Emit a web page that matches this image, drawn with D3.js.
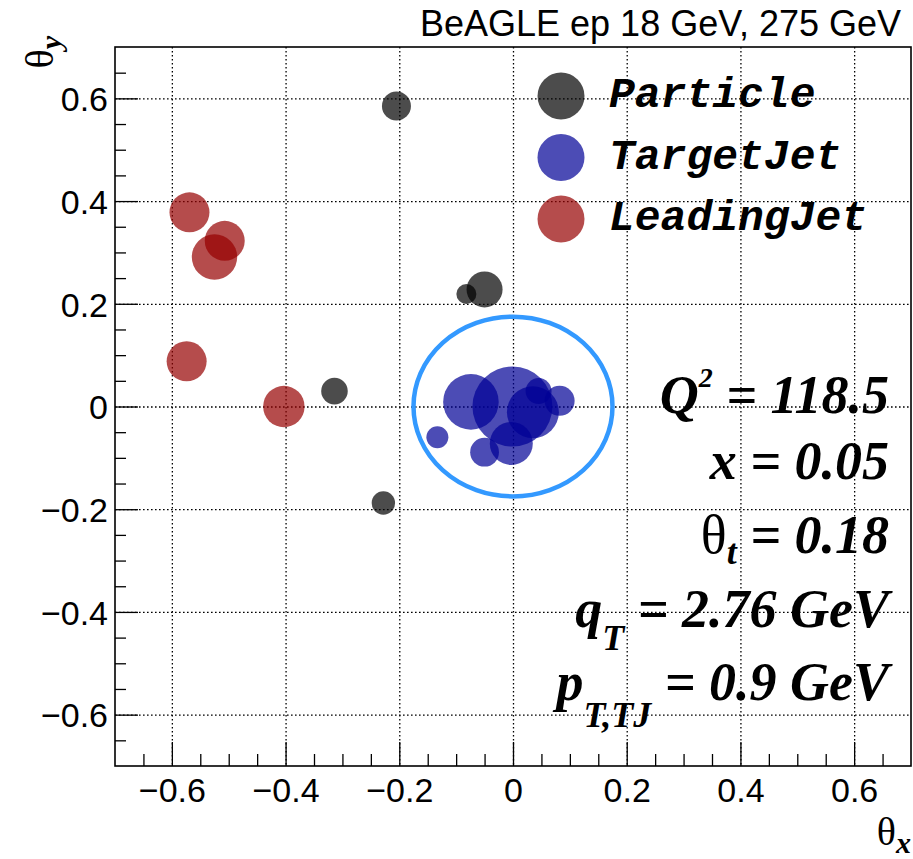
<!DOCTYPE html>
<html><head><meta charset="utf-8">
<script src="https://cdn.jsdelivr.net/npm/d3@7"></script>
<style>
body{margin:0;background:#fff}
svg{display:block}
.sans{font-family:"Liberation Sans",Arial,Helvetica,sans-serif}
.mono{font-family:"Liberation Mono","Courier New",monospace;font-weight:bold;font-style:italic}
.bi{font-family:"Liberation Serif","Times New Roman",serif;font-weight:bold;font-style:italic}
.rm{font-family:"Liberation Serif","Times New Roman",serif;font-weight:normal;font-style:normal}
</style>
</head><body>
<svg id="c" width="913" height="859"></svg>
<script>
// ---------------- data ----------------
const axisDomain = [-0.7, 0.7];
const majorTicks = [-0.6, -0.4, -0.2, 0, 0.2, 0.4, 0.6];
const minorStep = 0.05;

const titleText = "BeAGLE ep 18 GeV, 275 GeV";
const legendLabels = ["Particle", "TargetJet", "LeadingJet"];

// particles (theta_x, theta_y, size)
const particleX = [-0.205, -0.082, -0.050, -0.314, -0.228];
const particleY = [0.585, 0.219, 0.228, 0.030, -0.188];
const particleS = [1.45, 1.00, 1.80, 1.33, 1.17];

// target jet constituents
const targetX = [-0.074, -0.001, 0.035, 0.045, 0.082, -0.003, -0.050, -0.133];
const targetY = [0.009, 0.000, -0.011, 0.030, 0.011, -0.072, -0.089, -0.060];
const targetS = [2.78, 4.00, 2.60, 1.30, 1.50, 2.15, 1.44, 1.10];

// leading jet constituents
const leadX = [-0.569, -0.507, -0.525, -0.574, -0.403];
const leadY = [0.378, 0.3225, 0.291, 0.088, 0.000];
const leadS = [2.00, 2.00, 2.27, 2.00, 2.07];

const thetaT = 0.175;   // cone radius drawn around target jet axis
const coneCenter = [0, 0];

// stats text
const statLines = [
  [{t:"Q", c:"bi"}, {t:"2", c:"bi", sup:true}, {t:" = 118.5", c:"bi"}],
  [{t:"x = 0.05", c:"bi"}],
  [{t:"\u03b8", c:"rm"}, {t:"t", c:"bi", sub:true}, {t:" = 0.18", c:"bi"}],
  [{t:"q", c:"bi"}, {t:"T", c:"bi", sub:true}, {t:" = 2.76 GeV", c:"bi"}],
  [{t:"p", c:"bi"}, {t:"T,TJ", c:"bi", sub:true}, {t:" = 0.9 GeV", c:"bi"}]
];

// ---------------- layout ----------------
const L = 115, R = 911, T = 47, B = 766;
const svg = d3.select("#c");
const x = d3.scaleLinear().domain(axisDomain).range([L, R]);
const y = d3.scaleLinear().domain(axisDomain).range([B, T]);
const rS = d3.scaleLinear().domain([0, 1]).range([0, 10]);

const minorTicks = d3.range(-0.65, 0.7, minorStep).map(v => +v.toFixed(2))
  .filter(v => !majorTicks.some(m => Math.abs(m - v) < 1e-6));
const fmt = v => Math.abs(v) < 1e-9 ? "0" : d3.format(".1f")(v);

// grid
const gridX = svg.append("g").attr("transform", `translate(0,${T})`)
  .call(d3.axisTop(x).tickValues(majorTicks).tickSize(-(B - T)).tickFormat(""));
const gridY = svg.append("g").attr("transform", `translate(${L},0)`)
  .call(d3.axisLeft(y).tickValues(majorTicks).tickSize(-(R - L)).tickFormat(""));
[gridX, gridY].forEach(g => {
  g.select(".domain").remove();
  g.selectAll("line").attr("stroke", "#000").attr("stroke-width", 1.3).attr("stroke-dasharray", "1.6,2.4");
});

// markers
function drawSet(xs, ys, ss, fill) {
  svg.append("g").selectAll("circle").data(xs.map((v, i) => ({x: v, y: ys[i], s: ss[i]})))
    .join("circle")
    .attr("cx", d => x(d.x)).attr("cy", d => y(d.y)).attr("r", d => rS(d.s))
    .attr("fill", fill).attr("fill-opacity", 0.7);
}
drawSet(particleX, particleY, particleS, "#000");
drawSet(targetX, targetY, targetS, "rgb(0,0,150)");
drawSet(leadX, leadY, leadS, "rgb(150,0,0)");

// cone ring
svg.append("ellipse")
  .attr("cx", x(coneCenter[0])).attr("cy", y(coneCenter[1]))
  .attr("rx", x(thetaT) - x(0)).attr("ry", y(0) - y(thetaT))
  .attr("fill", "none").attr("stroke", "#3399ff").attr("stroke-width", 4.5);

// axes ticks
const axB = svg.append("g").attr("transform", `translate(0,${B})`)
  .call(d3.axisBottom(x).tickValues(majorTicks).tickSizeInner(-24).tickSizeOuter(0).tickPadding(0).tickFormat(fmt));
svg.append("g").attr("transform", `translate(0,${B})`)
  .call(d3.axisBottom(x).tickValues(minorTicks).tickSizeInner(-12).tickSizeOuter(0).tickFormat(""))
  .select(".domain").remove();
const axL = svg.append("g").attr("transform", `translate(${L},0)`)
  .call(d3.axisLeft(y).tickValues(majorTicks).tickSizeInner(-23).tickSizeOuter(0).tickPadding(7).tickFormat(fmt));
svg.append("g").attr("transform", `translate(${L},0)`)
  .call(d3.axisLeft(y).tickValues(minorTicks).tickSizeInner(-11).tickSizeOuter(0).tickFormat(""))
  .select(".domain").remove();

svg.selectAll(".tick line").filter(function(){ return !this.getAttribute("stroke-dasharray"); })
  .attr("stroke", "#000").attr("stroke-width", 1.3);
[axB, axL].forEach(g => g.select(".domain").remove());

axB.selectAll("text").attr("class", "sans").attr("font-size", 34).attr("fill", "#000")
  .attr("y", 36).attr("dy", null);
axL.selectAll("text").attr("class", "sans").attr("font-size", 34).attr("fill", "#000")
  .attr("dy", "0.36em");

// frame
svg.append("rect").attr("x", L).attr("y", T).attr("width", R - L).attr("height", B - T)
  .attr("fill", "none").attr("stroke", "#000").attr("stroke-width", 1.6);

// title
svg.append("text").attr("class", "sans").attr("x", 901).attr("y", 36)
  .attr("text-anchor", "end").attr("font-size", 36).text(titleText);

// axis titles
const tx = svg.append("text").attr("x", 911).attr("y", 845).attr("text-anchor", "end");
tx.append("tspan").attr("class", "rm").attr("font-size", 40).text("\u03b8");
tx.append("tspan").attr("class", "bi").attr("font-size", 30).attr("dy", 8).text("x");

const ty = svg.append("text").attr("text-anchor", "end").attr("transform", "translate(53,36) rotate(-90)");
ty.append("tspan").attr("class", "rm").attr("font-size", 40).text("\u03b8");
ty.append("tspan").attr("class", "bi").attr("font-size", 30).attr("dy", 8).text("y");

// legend
const legY = [96, 157.5, 219];
const legFill = ["#000", "rgb(0,0,150)", "rgb(150,0,0)"];
const lg = svg.append("g");
legendLabels.forEach((lab, i) => {
  lg.append("circle").attr("cx", 561).attr("cy", legY[i]).attr("r", 23.5)
    .attr("fill", legFill[i]).attr("fill-opacity", 0.7);
  lg.append("text").attr("class", "mono").attr("x", 609).attr("y", legY[i] + 11)
    .attr("font-size", 43).text(lab);
});

// stats
const statY = [413, 479, 553, 627, 700];
statLines.forEach((parts, i) => {
  const t = svg.append("text").attr("x", 889).attr("y", statY[i]).attr("text-anchor", "end");
  let shift = 0;
  parts.forEach(p => {
    let target = p.sup ? -26 : (p.sub ? (i === 2 ? 11 : (i === 3 ? 23 : 27)) : 0);
    t.append("tspan").attr("class", p.c)
      .attr("font-size", p.sup ? 28 : (p.sub ? 36 : 54))
      .attr("dy", target - shift).text(p.t);
    shift = target;
  });
});
</script>
</body></html>
